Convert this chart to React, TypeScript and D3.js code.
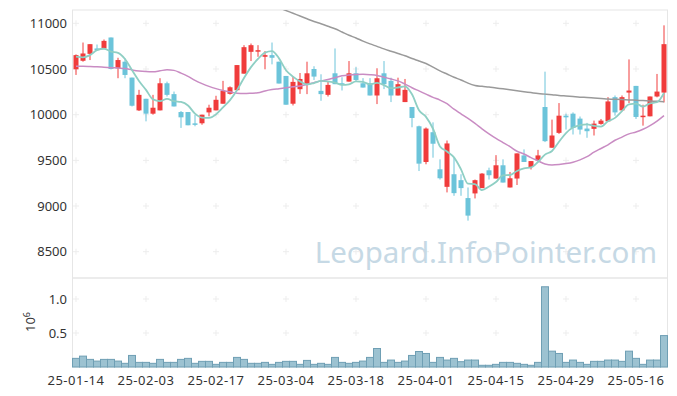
import React from 'react';
import * as d3 from 'd3';

const W = 677;
const H = 396;

// x tick labels every 10 trading days
const tickIndex = [0, 10, 20, 30, 40, 50, 60, 70, 80];
const tickLabels = ['25-01-14', '25-02-03', '25-02-17', '25-03-04', '25-03-18', '25-04-01', '25-04-15', '25-04-29', '25-05-16'];

const priceTicks = [8500, 9000, 9500, 10000, 10500, 11000];
const volTicks = [0.5, 1.0];

const open = [
  10497, 10590, 10666, 10725, 10725, 10845, 10507, 10580, 10406, 10047,
  10174, 10011, 10047, 10344, 10225, 10029, 10029, 9905, 9906, 10025,
  10047, 10120, 10228, 10268, 10449, 10688, 10692, 10634, 10652, 10580,
  10424, 10120, 10279, 10334, 10500, 10261, 10217, 10453, 10344, 10362,
  10453, 10344, 10344, 10210, 10453, 10370, 10210, 10138, 10084, 9873,
  9482, 9808, 9402, 9210, 9348, 9283, 9087, 9138, 9196, 9391,
  9301, 9446, 9203, 9301, 9554, 9427, 9500, 10084, 9638, 9801,
  9989, 10011, 9957, 9848, 9845, 9899, 9927, 10192, 10047, 10242,
  10315, 9975, 9982, 10199, 10242,
];
const close = [
  10652, 10670, 10772, 10707, 10808, 10500, 10598, 10435, 10098, 10217,
  10011, 10076, 10344, 10217, 10090, 9971, 9884, 9895, 10000, 10076,
  10163, 10261, 10300, 10543, 10739, 10761, 10706, 10652, 10623, 10341,
  10109, 10359, 10391, 10453, 10417, 10225, 10326, 10334, 10326, 10453,
  10380, 10297, 10210, 10399, 10334, 10210, 10334, 10272, 9964, 9464,
  9848, 9682, 9304, 9685, 9141, 9196, 8895, 9283, 9355, 9337,
  9446, 9257, 9304, 9576, 9482, 9492, 9554, 9710, 9772, 9989,
  9971, 9855, 9837, 9819, 9902, 9935, 10145, 10025, 10192, 10264,
  9975, 9989, 10199, 10253, 10772,
];
const high = [
  10660, 10790, 10772, 10768, 10823, 10845, 10623, 10616, 10406, 10272,
  10174, 10217, 10399, 10362, 10253, 10040, 10029, 10000, 10000, 10109,
  10207, 10370, 10310, 10543, 10761, 10779, 10761, 10696, 10790, 10580,
  10424, 10417, 10456, 10580, 10530, 10442, 10362, 10725, 10410, 10587,
  10520, 10400, 10400, 10508, 10587, 10405, 10405, 10391, 10084, 9880,
  9860, 9916, 9511, 9717, 9529, 9348, 9203, 9290, 9360, 9420,
  9557, 9511, 9373, 9576, 9620, 9492, 9615, 10471, 9946, 10127,
  10011, 10025, 9980, 9910, 9935, 9953, 10192, 10210, 10210, 10605,
  10315, 10109, 10199, 10446, 10978,
];
const low = [
  10435, 10580, 10598, 10700, 10725, 10495, 10399, 10399, 10090, 10040,
  9927, 10000, 10047, 10199, 10090, 9855, 9884, 9873, 9890, 9982,
  10047, 10120, 10220, 10268, 10449, 10587, 10634, 10497, 10551, 10341,
  10109, 10101, 10228, 10225, 10380, 10152, 10199, 10334, 10265, 10362,
  10362, 10297, 10210, 10116, 10280, 10138, 10210, 10138, 9862, 9383,
  9457, 9529, 9290, 9149, 9112, 9112, 8840, 9083, 9196, 9290,
  9301, 9257, 9203, 9230, 9482, 9400, 9500, 9700, 9638, 9790,
  9837, 9783, 9783, 9747, 9772, 9890, 9927, 9989, 10047, 10127,
  9953, 9880, 9982, 10190, 10134,
];
const volume = [
  127000, 160000, 112000, 87000, 112000, 112000, 87000, 54000, 170000, 68000,
  68000, 54000, 112000, 68000, 68000, 112000, 127000, 54000, 83000, 83000,
  39000, 68000, 68000, 141000, 112000, 54000, 54000, 68000, 39000, 68000,
  83000, 83000, 39000, 97000, 39000, 54000, 39000, 141000, 68000, 54000,
  68000, 87000, 141000, 272000, 68000, 102000, 68000, 87000, 170000, 228000,
  199000, 68000, 141000, 102000, 127000, 78000, 102000, 102000, 25000, 25000,
  39000, 68000, 68000, 54000, 39000, 25000, 68000, 1180000, 233000, 199000,
  68000, 102000, 68000, 39000, 83000, 83000, 102000, 102000, 83000, 233000,
  127000, 39000, 102000, 102000, 462000,
];

// first MA5 points depend on closes before the window
const ma5Head = [10635, 10628, 10652, 10707];
const ma20 = [
  10530, 10530, 10528, 10525, 10520, 10515, 10510, 10505, 10490, 10478,
  10472, 10470, 10480, 10492, 10485, 10455, 10420, 10375, 10340, 10310,
  10285, 10265, 10250, 10235, 10232, 10235, 10240, 10260, 10275, 10285,
  10295, 10305, 10315, 10330, 10350, 10370, 10385, 10405, 10425, 10435,
  10440, 10442, 10438, 10430, 10410, 10390, 10370, 10335, 10295, 10260,
  10225, 10190, 10160, 10120, 10060, 10010, 9960, 9905, 9845, 9790,
  9740, 9695, 9650, 9600, 9570, 9530, 9495, 9460, 9450, 9455,
  9465, 9480, 9505, 9540, 9590, 9630, 9670, 9720, 9755, 9790,
  9810, 9840, 9880, 9930, 9990,
];
const ma60: (number | null)[] = [
  null, null, null, null, null, null, null, null, null, null,
  null, null, null, null, null, null, null, null, null, null,
  null, null, null, null, null, null, null, null, null, 11170,
  11140, 11110, 11080, 11050, 11020, 10995, 10968, 10940, 10905, 10870,
  10840, 10805, 10775, 10748, 10720, 10695, 10670, 10645, 10615, 10588,
  10560, 10520, 10480, 10445, 10410, 10380, 10345, 10320, 10310, 10302,
  10292, 10283, 10273, 10262, 10252, 10242, 10232, 10225, 10218, 10210,
  10204, 10198, 10192, 10188, 10183, 10178, 10172, 10168, 10165, 10162,
  10158, 10154, 10150, 10146, 10142,
];

const ma5 = close.map((_, i) => (i < 4 ? ma5Head[i] : d3.mean(close.slice(i - 4, i + 1)) as number));

const UP = '#f03c3c';
const DOWN = '#6cc4da';
const font = '"Noto Sans", "DejaVu Sans", sans-serif';

export default function App() {
  const left = 72.5, right = 667.5;
  const pTop = 10, pBot = 278, vBot = 367;
  const idx = d3.range(close.length);

  const x = d3.scaleBand<number>().domain(idx).range([left, right]).padding(0);
  const cx = (i: number) => (x(i) as number) + x.bandwidth() / 2;
  const y = d3.scaleLinear().domain([8212, 11146]).range([pBot, pTop]);
  const yv = d3.scaleLinear().domain([0, 1.309e6]).range([vBot, pBot]);

  const bodyW = 5;
  const lineGen = d3.line<number | null>()
    .defined(d => d != null)
    .x((_, i) => cx(i))
    .y(d => y(d as number))
    .curve(d3.curveMonotoneX);

  const cross = (px: number, py: number, key: string) => (
    <g key={key} stroke="#ededed" strokeWidth={1}>
      <line x1={px - 3} x2={px + 3} y1={py} y2={py} />
      <line x1={px} x2={px} y1={py - 3} y2={py + 3} />
    </g>
  );

  return (
    <svg width={W} height={H} style={{ position: 'absolute', left: 0, top: 0, background: '#fff' }} fontFamily={font}>
      <defs>
        <clipPath id="pclip">
          <rect x={left} y={pTop} width={right - left} height={pBot - pTop} />
        </clipPath>
      </defs>

      {/* panel frames */}
      <rect x={left} y={pTop} width={right - left} height={pBot - pTop} fill="none" stroke="#e6e6e6" />
      <rect x={left} y={pBot} width={right - left} height={vBot - pBot} fill="none" stroke="#e6e6e6" />

      {/* grid crosses */}
      {tickIndex.map(ti => priceTicks.map(v => cross(cx(ti), y(v), `p${ti}-${v}`)))}
      {tickIndex.map(ti => volTicks.map(v => cross(cx(ti), yv(v * 1e6), `v${ti}-${v}`)))}

      {/* watermark */}
      <text x={657} y={263} textAnchor="end" fontSize={29.5} fill="#c6d9e5">Leopard.InfoPointer.com</text>

      {/* candles */}
      <g clipPath="url(#pclip)">
        {idx.map(i => {
          const up = close[i] >= open[i];
          const col = up ? UP : DOWN;
          const top = y(Math.max(open[i], close[i]));
          const bot = y(Math.min(open[i], close[i]));
          return (
            <g key={i}>
              <line x1={cx(i)} x2={cx(i)} y1={y(high[i])} y2={y(low[i])} stroke={col} strokeWidth={1} />
              <rect x={cx(i) - bodyW / 2} y={top} width={bodyW} height={Math.max(1.5, bot - top)} fill={col} />
            </g>
          );
        })}
        <path d={lineGen(ma60) || ''} fill="none" stroke="#9a9a9a" strokeWidth={1.5} />
        <path d={lineGen(ma20) || ''} fill="none" stroke="#c98cc3" strokeWidth={1.5} />
        <path d={lineGen(ma5) || ''} fill="none" stroke="#8fcfc4" strokeWidth={1.8} />
      </g>

      {/* volume */}
      {idx.map(i => (
        <rect key={`vol${i}`} x={x(i)} y={yv(volume[i])} width={x.bandwidth()} height={vBot - yv(volume[i])}
          fill="#9cc2d1" stroke="#6f9fb4" strokeWidth={1} />
      ))}

      {/* y labels */}
      {priceTicks.map(v => (
        <text key={`pl${v}`} x={67} y={y(v)} dy="0.35em" textAnchor="end" fontSize={13} fill="#333">{v}</text>
      ))}
      {volTicks.map(v => (
        <text key={`vl${v}`} x={67} y={yv(v * 1e6)} dy="0.35em" textAnchor="end" fontSize={13} fill="#333">{v.toFixed(1)}</text>
      ))}
      <text transform="translate(35,322) rotate(-90)" textAnchor="middle" fontSize={13} fill="#333">
        10<tspan dy={-5} fontSize={9}>6</tspan>
      </text>

      {/* x labels */}
      {tickIndex.map((ti, k) => (
        <text key={`xl${ti}`} x={cx(ti)} y={385} textAnchor="middle" fontSize={13} letterSpacing={0.5} fill="#333">{tickLabels[k]}</text>
      ))}
    </svg>
  );
}
